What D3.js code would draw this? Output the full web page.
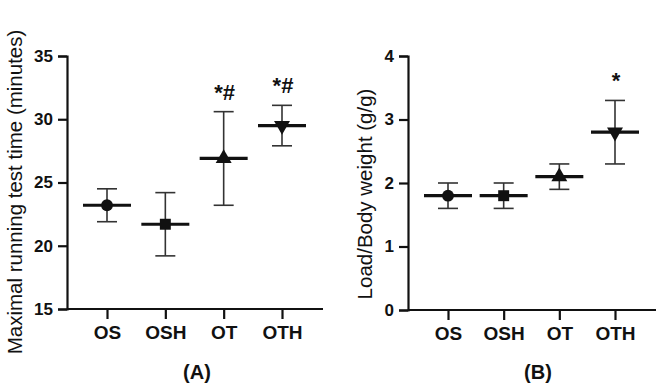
<!DOCTYPE html>
<html>
<head>
<meta charset="utf-8">
<script src="https://cdn.jsdelivr.net/npm/d3@7"></script>
<style>
  body { margin: 0; background: #fff; }
  text { font-family: "Liberation Sans", Arial, sans-serif; }
</style>
</head>
<body>
<svg id="chart" width="666" height="386"></svg>
<script>
// groups and symbols
const groups = ['OS', 'OSH', 'OT', 'OTH'];
const symbols = [d3.symbolCircle, d3.symbolSquare, d3.symbolTriangle, 'down'];

// panel A: maximal running test time (minutes)
const timeMean = [23.2, 21.7, 26.9, 29.5];
const timeLow  = [21.9, 19.2, 23.2, 27.9];
const timeHigh = [24.5, 24.2, 30.6, 31.1];
const timeMarks = ['', '', '*#', '*#'];
const timeTicks = [15, 20, 25, 30, 35];

// panel B: load / body weight (g/g)
const loadMean = [1.8, 1.8, 2.1, 2.8];
const loadLow  = [1.6, 1.6, 1.9, 2.3];
const loadHigh = [2.0, 2.0, 2.3, 3.3];
const loadMarks = ['', '', '', '*'];
const loadTicks = [0, 1, 2, 3, 4];

const svg = d3.select('#chart');

function panel(opt) {
  const g = svg.append('g');
  const x = d3.scalePoint().domain(groups).range([opt.x0 + 40, opt.x1 - 41]);
  const y = d3.scaleLinear().domain(opt.domain).range([opt.yb, opt.yt]);

  // axes
  const ya = g.append('g').attr('transform', `translate(${opt.x0},0)`)
    .call(d3.axisLeft(y).tickValues(opt.ticks).tickFormat(d3.format('d')).tickSize(9).tickPadding(5));
  const xa = g.append('g').attr('transform', `translate(0,${opt.yb})`)
    .call(d3.axisBottom(x).tickSize(10).tickPadding(7));
  xa.select('.domain').attr('d', `M${opt.x0},0H${opt.x1}`);
  [ya, xa].forEach(a => {
    a.selectAll('path,line').attr('stroke', '#111').attr('stroke-width', 2.2);
    a.selectAll('text').attr('fill', '#111').style('font-weight', 'bold');
  });
  ya.selectAll('text').style('font-size', '17px');
  xa.selectAll('text').style('font-size', '19px');

  // y title
  g.append('text')
    .attr('transform', `translate(${opt.titleX},${opt.titleY}) rotate(-90)`)
    .attr('text-anchor', 'middle').attr('dy', '0.35em')
    .style('font-size', '20.5px').attr('fill', '#111')
    .text(opt.title);

  // panel label
  g.append('text')
    .attr('x', opt.labelX).attr('y', 379)
    .attr('text-anchor', 'middle')
    .style('font-size', '20px').style('font-weight', 'bold').attr('fill', '#111')
    .text(opt.label);

  const marks = g.append('g');
  groups.forEach((k, i) => {
    const cx = x(k);
    // error bar
    marks.append('line').attr('x1', cx).attr('x2', cx)
      .attr('y1', y(opt.low[i])).attr('y2', y(opt.high[i]))
      .attr('stroke', '#333').attr('stroke-width', 1.6);
    [opt.low[i], opt.high[i]].forEach(v => {
      marks.append('line').attr('x1', cx - 10).attr('x2', cx + 10)
        .attr('y1', y(v)).attr('y2', y(v))
        .attr('stroke', '#333').attr('stroke-width', 1.6);
    });
    // mean line
    marks.append('line').attr('x1', cx - 24).attr('x2', cx + 24)
      .attr('y1', y(opt.mean[i])).attr('y2', y(opt.mean[i]))
      .attr('stroke', '#111').attr('stroke-width', 3.2);
    // symbol
    const s = symbols[i];
    const sym = d3.symbol().type(s === 'down' ? d3.symbolTriangle : s).size(s === d3.symbolSquare ? 120 : 110);
    marks.append('path').attr('d', sym())
      .attr('transform', `translate(${cx},${y(opt.mean[i])})${s === 'down' ? ' rotate(180)' : ''}`)
      .attr('fill', '#111');
    // significance
    if (opt.marks[i]) {
      marks.append('text').attr('x', cx + 1).attr('y', y(opt.high[i]) - 12)
        .attr('text-anchor', 'middle')
        .style('font-size', '22px').style('font-weight', 'bold')
        .attr('fill', '#111').text(opt.marks[i]);
    }
  });
}

panel({
  x0: 67, x1: 323, yt: 56, yb: 309, domain: [15, 35], ticks: timeTicks,
  mean: timeMean, low: timeLow, high: timeHigh, marks: timeMarks,
  title: 'Maximal running test time (minutes)', titleX: 15, titleY: 192, labelX: 197, label: '(A)'
});
panel({
  x0: 408, x1: 656, yt: 56, yb: 310, domain: [0, 4], ticks: loadTicks,
  mean: loadMean, low: loadLow, high: loadHigh, marks: loadMarks,
  title: 'Load/Body weight (g/g)', titleX: 365, titleY: 194, labelX: 538, label: '(B)'
});
</script>
</body>
</html>
